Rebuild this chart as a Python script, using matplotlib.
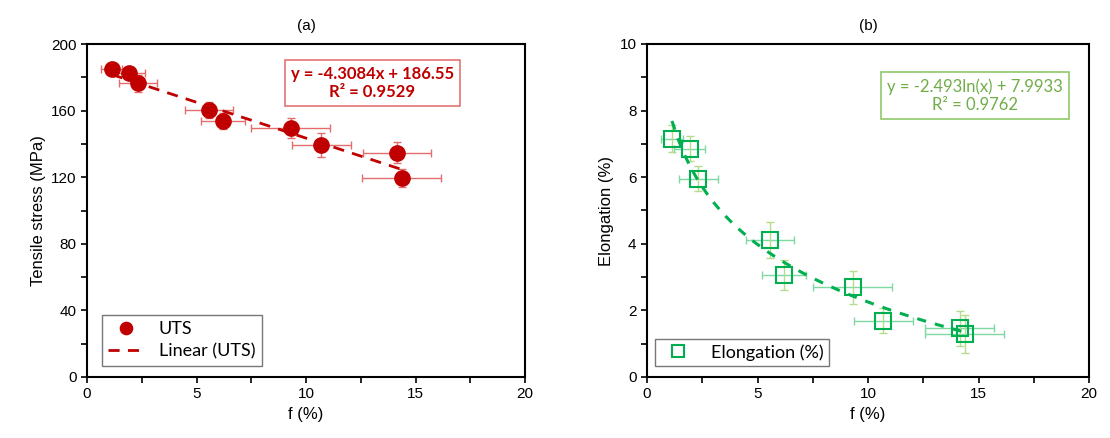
import matplotlib.pyplot as plt
import numpy as np
from matplotlib.ticker import MultipleLocator

plt.rcParams['font.family'] = ['Liberation Sans', 'DejaVu Sans']

# data
f = [1.13, 1.94, 2.32, 5.56, 6.21, 9.30, 10.70, 14.15, 14.37]
f_err = [0.48, 0.70, 0.88, 1.10, 1.00, 1.80, 1.35, 1.56, 1.80]
uts = [184.8, 182.4, 176.4, 160.4, 153.8, 149.4, 139.4, 134.8, 119.4]
uts_err = [3.0, 3.5, 5.0, 5.0, 5.0, 6.0, 7.0, 6.5, 5.5]
elong = [7.16, 6.86, 5.96, 4.11, 3.06, 2.69, 1.69, 1.46, 1.29]
elong_err = [0.40, 0.38, 0.38, 0.55, 0.44, 0.49, 0.37, 0.52, 0.58]

lin_a, lin_b = -4.3084, 186.55
log_a, log_b = -2.493, 7.9933

red = '#C00000'
green = '#00B050'

fig = plt.figure(figsize=(11.1, 4.38), dpi=100)
ax1 = fig.add_axes([87 / 1110, 1 - 377 / 438, 438 / 1110, 333 / 438])
ax2 = fig.add_axes([647 / 1110, 1 - 377 / 438, 442 / 1110, 333 / 438])


def style(ax, xmaj, ymaj, ymin):
    for s in ax.spines.values():
        s.set_linewidth(1.5)
    ax.set_xlim(0, 20)
    ax.xaxis.set_major_locator(MultipleLocator(xmaj))
    ax.xaxis.set_minor_locator(MultipleLocator(xmaj / 2))
    ax.yaxis.set_major_locator(MultipleLocator(ymaj))
    ax.yaxis.set_minor_locator(MultipleLocator(ymin))
    ax.tick_params(which='both', direction='out', length=4, width=1.2,
                   labelsize=11, top=False, right=False)
    ax.set_xlabel('f (%)', fontsize=12)


# (a) tensile stress
style(ax1, 5, 40, 20)
ax1.set_ylim(0, 200)
ax1.errorbar(f, uts, xerr=f_err, yerr=uts_err, fmt='none', ecolor='#E46C6C',
             elinewidth=1, capsize=3, capthick=1, zorder=2)
xl = np.linspace(min(f), max(f), 50)
ax1.plot(xl, lin_a * xl + lin_b, '--', color=red, lw=2, dashes=(4, 3),
         label='Linear (UTS)', zorder=3)
ax1.plot(f, uts, 'o', color=red, ms=11, label='UTS', zorder=4)
ax1.set_ylabel('Tensile stress (MPa)', fontsize=12)
ax1.set_title('(a)', fontsize=11, pad=10)
h, l = ax1.get_legend_handles_labels()
ax1.legend([h[1], h[0]], [l[1], l[0]], loc='lower left', bbox_to_anchor=(0.034, 0.033),
           borderaxespad=0, fancybox=False, edgecolor='#555555',
           prop={'family': 'Lato', 'size': 13}, markerscale=0.8, handlelength=2,
           borderpad=0.35, labelspacing=0.35)
ax1.text(9.3, 187, 'y = -4.3084x + 186.55\nR² = 0.9529', ha='left', va='top',
         color=red, fontsize=12, fontweight='bold', family='Lato', multialignment='center',
         bbox=dict(boxstyle='square,pad=0.35', fc='white', ec='#E57373', lw=1.2))

# (b) elongation
style(ax2, 5, 2, 1)
ax2.set_ylim(0, 10)
ax2.errorbar(f, elong, xerr=f_err, fmt='none', ecolor='#7FD9A3',
             elinewidth=1, capsize=3, capthick=1, zorder=2)
ax2.errorbar(f, elong, yerr=elong_err, fmt='none', ecolor='#B5DC8C',
             elinewidth=1, capsize=3, capthick=1, zorder=2)
ax2.plot(f, elong, 's', mfc='none', mec=green, mew=1.5, ms=11,
         label='Elongation (%)', zorder=3)
ax2.plot(xl, log_a * np.log(xl) + log_b, '--', color=green, lw=2.2, dashes=(3, 3),
         zorder=4)
ax2.set_ylabel('Elongation (%)', fontsize=12)
ax2.set_title('(b)', fontsize=11, pad=10)
ax2.legend(loc='lower left', bbox_to_anchor=(0.018, 0.033), borderaxespad=0,
           fancybox=False, edgecolor='#555555', prop={'family': 'Lato', 'size': 13},
           markerscale=0.8, handlelength=2, borderpad=0.3)
ax2.text(10.87, 8.98, 'y = -2.493ln(x) + 7.9933\nR² = 0.9762', ha='left', va='top',
         color='#70AD47', fontsize=12, family='Lato', multialignment='center',
         bbox=dict(boxstyle='square,pad=0.35', fc='white', ec='#8FC86B', lw=1.2))

fig.savefig('out.png', dpi=100)
